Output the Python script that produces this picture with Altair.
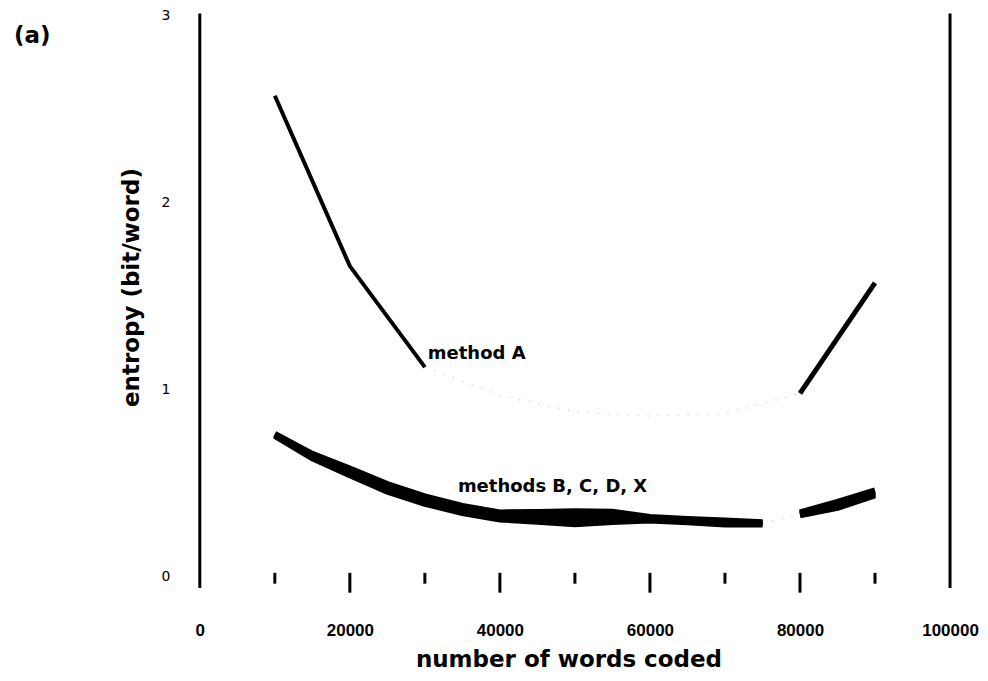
import altair as alt
import pandas as pd

# ---- data ----
x_ticks_labels = [0, 20000, 40000, 60000, 80000, 100000]
y_ticks_labels = [0, 1, 2, 3]
tick_major = [20000, 40000, 60000, 80000]
tick_minor = [10000, 30000, 50000, 70000, 90000]
frame_x = [0, 100000]

# method A (solid parts and faint dotted middle)
a1_x = [10000, 20000, 30000]
a1_y = [2.57, 1.66, 1.12]
a2_x = [80000, 90000]
a2_y = [0.98, 1.57]
a0_x = [30000, 40000, 50000, 60000, 70000, 80000]
a0_y = [1.12, 0.97, 0.88, 0.86, 0.87, 0.98]

# methods B, C, D, X (overlapping band)
band_x1 = [10000, 15000, 20000, 25000, 30000, 35000, 40000, 45000, 50000,
           55000, 60000, 65000, 70000, 75000]
B1 = [0.764, 0.657, 0.578, 0.495, 0.430, 0.379, 0.344, 0.346, 0.350, 0.347, 0.320, 0.309, 0.301, 0.291]
C1 = [0.760, 0.649, 0.566, 0.482, 0.417, 0.366, 0.331, 0.329, 0.327, 0.330, 0.313, 0.303, 0.294, 0.287]
D1 = [0.756, 0.641, 0.554, 0.468, 0.403, 0.354, 0.319, 0.311, 0.303, 0.310, 0.307, 0.297, 0.286, 0.283]
X1 = [0.752, 0.633, 0.542, 0.455, 0.390, 0.341, 0.306, 0.294, 0.280, 0.293, 0.300, 0.291, 0.279, 0.279]
band_x2 = [80000, 85000, 90000]
B2 = [0.344, 0.400, 0.461]
C2 = [0.339, 0.390, 0.452]
D2 = [0.333, 0.378, 0.444]
X2 = [0.328, 0.368, 0.435]
gap_x = [75000, 80000]
gap_y = [0.285, 0.336]

label_text = ["method A", "methods B, C, D, X"]
label_x = [30400, 34400]
label_y = [1.19, 0.48]

# ---- tables ----
def seg(xs, ys, name):
    return pd.DataFrame({"x": xs, "y": ys, "s": name})

dfA1 = seg(a1_x, a1_y, "A1")
dfA2 = seg(a2_x, a2_y, "A2")
dfFaint = pd.concat([seg(a0_x, a0_y, "A0"), seg(gap_x, gap_y, "G")])
band_parts = []
for nm, v1, v2 in [("B", B1, B2), ("C", C1, C2), ("D", D1, D2), ("X", X1, X2)]:
    band_parts.append(seg(band_x1, v1, nm + "1"))
    band_parts.append(seg(band_x2, v2, nm + "2"))
dfBand = pd.concat(band_parts)
dfFrame = pd.DataFrame({"x": frame_x, "lo": -0.06, "hi": 3.01})
dfTicks = pd.concat([
    pd.DataFrame({"x": tick_major, "lo": -0.085, "hi": 0.021}),
    pd.DataFrame({"x": tick_minor, "lo": -0.037, "hi": 0.021}),
])
dfLabels = pd.DataFrame({"x": label_x, "y": label_y, "t": label_text})

FONT = "DejaVu Sans"
xscale = alt.Scale(domain=[0, 100000], nice=False, zero=False)
yscale = alt.Scale(domain=[0, 3], nice=False, zero=False)
xaxis = alt.Axis(values=x_ticks_labels, format="d", domain=False, ticks=False, grid=False,
                 labelPadding=46, labelFont="Liberation Sans", labelFontSize=17,
                 labelFontWeight="bold", labelColor="black", labelFlush=False,
                 title="number of words coded", titleFont=FONT, titleFontSize=23,
                 titleFontWeight="bold", titleColor="black", titlePadding=10, titleX=369)
yaxis = alt.Axis(values=y_ticks_labels, format="d", domain=False, ticks=False, grid=False,
                 labelPadding=30, labelFont=FONT, labelFontSize=14, labelColor="black",
                 title="entropy (bit/word)", titleFont=FONT, titleFontSize=23,
                 titleFontWeight="bold", titleColor="black", titlePadding=17, titleY=272)

def X(f="x"):
    return alt.X(f, type="quantitative", scale=xscale, axis=xaxis)

def Y(f="y"):
    return alt.Y(f, type="quantitative", scale=yscale, axis=yaxis)

frame = alt.Chart(dfFrame).mark_rule(color="black", strokeWidth=3).encode(
    x=X(), y=Y("lo"), y2="hi")
ticks = alt.Chart(dfTicks).mark_rule(color="black", strokeWidth=3).encode(
    x=X(), y=Y("lo"), y2="hi")
faint = alt.Chart(dfFaint).mark_line(color="#c8c8c8", strokeWidth=1.5, strokeDash=[1, 9]).encode(
    x=X(), y=Y(), detail="s:N")
lineA1 = alt.Chart(dfA1).mark_line(color="black", strokeWidth=4).encode(x=X(), y=Y())
lineA2 = alt.Chart(dfA2).mark_line(color="black", strokeWidth=5).encode(x=X(), y=Y())
band = alt.Chart(dfBand).mark_line(color="black", strokeWidth=6).encode(
    x=X(), y=Y(), detail="s:N")
labels = alt.Chart(dfLabels).mark_text(align="left", baseline="middle", font=FONT,
                                       fontSize=18, fontWeight="bold", color="black").encode(
    x=X(), y=Y(), text="t:N")
panel = alt.Chart(pd.DataFrame({"t": ["(a)"]})).mark_text(
    align="left", baseline="middle", font=FONT, fontSize=23,
    fontWeight="bold", color="black").encode(
    x=alt.value(-186), y=alt.value(21), text="t:N")

chart = alt.layer(frame, ticks, faint, lineA1, lineA2, band, labels, panel).properties(
    width=751, height=562,
    padding={"left": 192, "top": 7, "right": 30, "bottom": 96},
    autosize=alt.AutoSizeParams(type="none"),
    background="white",
).configure_view(stroke=None)

chart.save("out.html", embed_options={"renderer": "svg", "actions": False})
